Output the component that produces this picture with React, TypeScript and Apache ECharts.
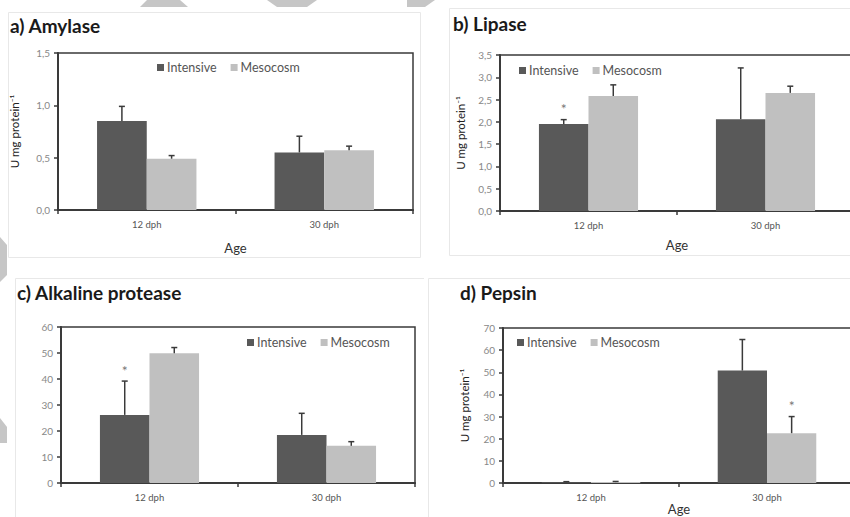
import React, { useEffect, useRef } from 'react';
import * as echarts from 'echarts';

// ---------------- data ----------------
const categories = ['12 dph', '30 dph'];
const seriesNames = ['Intensive', 'Mesocosm'];

const amylaseIntensive = [0.85, 0.55];
const amylaseIntensiveErr = [0.14, 0.155];
const amylaseMesocosm = [0.49, 0.57];
const amylaseMesocosmErr = [0.03, 0.04];

const lipaseIntensive = [1.95, 2.06];
const lipaseIntensiveErr = [0.1, 1.15];
const lipaseMesocosm = [2.58, 2.65];
const lipaseMesocosmErr = [0.25, 0.15];

const proteaseIntensive = [26.2, 18.5];
const proteaseIntensiveErr = [13, 8.3];
const proteaseMesocosm = [49.9, 14.3];
const proteaseMesocosmErr = [2.2, 1.6];

const pepsinIntensive = [0.3, 50.8];
const pepsinIntensiveErr = [0.3, 14];
const pepsinMesocosm = [0.4, 22.5];
const pepsinMesocosmErr = [0.3, 7.5];

// significance (*) flags per category
const amylaseIntensiveStar = [0, 0];
const amylaseMesocosmStar = [0, 0];
const lipaseIntensiveStar = [1, 0];
const lipaseMesocosmStar = [0, 0];
const proteaseIntensiveStar = [1, 0];
const proteaseMesocosmStar = [0, 0];
const pepsinIntensiveStar = [0, 0];
const pepsinMesocosmStar = [0, 1];

const panelTitles = ['a) Amylase', 'b) Lipase', 'c) Alkaline protease', 'd) Pepsin'];
const yAxisTitles = ['U mg protein⁻¹', 'U mg protein⁻¹', '', 'U mg protein⁻¹'];
const xAxisTitles = ['Age', 'Age', '', 'Age'];
const yMax = [1.5, 3.5, 60, 70];
const yInterval = [0.5, 0.5, 10, 10];
const yDecimals = [1, 1, 0, 0];

// ---------------- layout / style ----------------
const FONT = 'Lato, "Open Sans", sans-serif';
const BAR_FRAC = 0.28;
const colors = ['#595959', '#c0c0c0'];
const axisColor = '#3a3a3a';

const grids = [
  { left: 58, top: 53, width: 355, height: 157 },
  { left: 500, top: 55, width: 354, height: 156 },
  { left: 61, top: 327, width: 354, height: 156 },
  { left: 503, top: 328, width: 352, height: 155 },
];
const titlePos = [
  { left: 10, top: 16 },
  { left: 453, top: 14 },
  { left: 17, top: 283 },
  { left: 460, top: 283 },
];
const legendPos = [
  { left: 157, top: 61 },
  { left: 519, top: 64 },
  { left: 247, top: 336 },
  { left: 517, top: 336 },
];
const xNameGap = [31, 27, 0, 19];
const yNameGap = [38, 34, 0, 33];

const panels = [
  {
    vals: [amylaseIntensive, amylaseMesocosm],
    errs: [amylaseIntensiveErr, amylaseMesocosmErr],
    stars: [amylaseIntensiveStar, amylaseMesocosmStar],
  },
  {
    vals: [lipaseIntensive, lipaseMesocosm],
    errs: [lipaseIntensiveErr, lipaseMesocosmErr],
    stars: [lipaseIntensiveStar, lipaseMesocosmStar],
  },
  {
    vals: [proteaseIntensive, proteaseMesocosm],
    errs: [proteaseIntensiveErr, proteaseMesocosmErr],
    stars: [proteaseIntensiveStar, proteaseMesocosmStar],
  },
  {
    vals: [pepsinIntensive, pepsinMesocosm],
    errs: [pepsinIntensiveErr, pepsinMesocosmErr],
    stars: [pepsinIntensiveStar, pepsinMesocosmStar],
  },
];

function makeErrorRenderer(group: number) {
  return (params: any, api: any) => {
    const x = api.value(0);
    const v = api.value(1);
    const e = api.value(2);
    const star = api.value(3);
    const base = api.coord([x, v]);
    const top = api.coord([x, v + e]);
    const band = api.size([1, 0])[0];
    const off = band * BAR_FRAC * (group === 0 ? -0.5 : 0.5);
    const cx = base[0] + off;
    const children: any[] = [
      {
        type: 'line',
        shape: { x1: cx, y1: base[1], x2: cx, y2: top[1] },
        style: { stroke: axisColor, lineWidth: 1.5 },
      },
      {
        type: 'line',
        shape: { x1: cx - 3, y1: top[1], x2: cx + 3, y2: top[1] },
        style: { stroke: axisColor, lineWidth: 1.5 },
      },
    ];
    if (star) {
      children.push({
        type: 'text',
        x: cx,
        y: top[1] - 11,
        style: {
          text: '*',
          fill: '#777',
          fontSize: 14,
          fontFamily: FONT,
          align: 'center',
          verticalAlign: 'middle',
        },
      });
    }
    return { type: 'group', children };
  };
}

export default function App() {
  const ref = useRef<HTMLDivElement>(null);

  useEffect(() => {
    if (!ref.current) return;
    const chart = echarts.init(ref.current, undefined, { renderer: 'svg' });

    const series: any[] = [];
    panels.forEach((p, pi) => {
      [0, 1].forEach((g) => {
        series.push({
          type: 'bar',
          name: seriesNames[g],
          xAxisIndex: pi,
          yAxisIndex: pi,
          data: p.vals[g],
          barWidth: BAR_FRAC * 100 + '%',
          barGap: '0%',
          itemStyle: { color: colors[g] },
          z: 2,
        });
      });
      [0, 1].forEach((g) => {
        series.push({
          type: 'custom',
          name: 'err' + pi + g,
          xAxisIndex: pi,
          yAxisIndex: pi,
          clip: false,
          z: 3,
          renderItem: makeErrorRenderer(g),
          data: categories.map((_, ci) => [ci, p.vals[g][ci], p.errs[g][ci], p.stars[g][ci]]),
          encode: { x: 0, y: 1 },
          silent: true,
        });
      });
    });

    const wm = '#c6c6c6';
    const border = '#e8e8e8';
    const graphic: any[] = [
      // panel frames
      { type: 'rect', shape: { x: 8.5, y: 12.5, width: 412, height: 245 }, style: { fill: 'none', stroke: border, lineWidth: 1 }, z: -10 },
      { type: 'rect', shape: { x: 449.5, y: 8.5, width: 420, height: 247 }, style: { fill: 'none', stroke: border, lineWidth: 1 }, z: -10 },
      { type: 'polyline', shape: { points: [[15.5, 530], [15.5, 278.5], [424, 278.5]] }, style: { fill: 'none', stroke: border, lineWidth: 1 }, z: -10 },
      { type: 'rect', shape: { x: 428.5, y: 278.5, width: 430, height: 260 }, style: { fill: 'none', stroke: border, lineWidth: 1 }, z: -10 },
      // watermark chevrons
      { type: 'polygon', shape: { points: [[147, 0], [180, 0], [188, 7], [140, 7]] }, style: { fill: wm }, z: -5 },
      { type: 'polygon', shape: { points: [[267, 0], [317, 0], [307, 7], [277, 7]] }, style: { fill: wm }, z: -5 },
      { type: 'polygon', shape: { points: [[407, 0], [435, 0], [425, 7], [407, 7]] }, style: { fill: wm }, z: -5 },
      { type: 'polygon', shape: { points: [[0, 237], [7, 245], [7, 275], [0, 282]] }, style: { fill: wm }, z: -5 },
      { type: 'polygon', shape: { points: [[0, 418], [7, 427], [7, 443], [0, 443]] }, style: { fill: wm }, z: -5 },
    ];

    chart.setOption({
      animation: false,
      backgroundColor: '#ffffff',
      title: panelTitles.map((t, i) => ({
        text: t,
        left: titlePos[i].left,
        top: titlePos[i].top,
        padding: 0,
        textStyle: { fontSize: 19, fontWeight: 'bold', fontFamily: FONT, color: '#1a1a1a' },
      })),
      legend: legendPos.map((lp) => ({
        data: seriesNames,
        left: lp.left,
        top: lp.top,
        padding: 0,
        itemWidth: 7,
        itemHeight: 7,
        itemGap: 14,
        icon: 'rect',
        selectedMode: false,
        textStyle: { fontSize: 12.5, color: '#555', fontFamily: FONT, padding: [0, 0, 0, -2] },
      })),
      grid: grids.map((g) => ({
        ...g,
        show: true,
        borderColor: axisColor,
        borderWidth: 1.5,
        backgroundColor: 'transparent',
        outerBoundsMode: 'none',
        containLabel: false,
      })),
      xAxis: grids.map((_, i) => ({
        type: 'category',
        gridIndex: i,
        data: categories,
        axisLine: { show: true, lineStyle: { color: axisColor, width: 2 } },
        axisTick: { show: true, length: 4, lineStyle: { color: axisColor, width: 1.5 } },
        axisLabel: { color: '#555', fontSize: 9.5, margin: 9, fontFamily: FONT },
        name: xAxisTitles[i],
        nameLocation: 'middle',
        nameGap: xNameGap[i],
        nameTextStyle: { fontSize: 13, color: '#333', fontFamily: FONT },
        splitLine: { show: false },
      })),
      yAxis: grids.map((_, i) => ({
        type: 'value',
        gridIndex: i,
        min: 0,
        max: yMax[i],
        interval: yInterval[i],
        axisLine: { show: true, lineStyle: { color: axisColor, width: 2 } },
        axisTick: { show: true, length: 4, lineStyle: { color: axisColor, width: 1.5 } },
        axisLabel: {
          color: '#888',
          fontSize: 10,
          margin: 8,
          fontFamily: FONT,
          formatter: (v: number) => v.toFixed(yDecimals[i]).replace('.', ','),
        },
        splitLine: { show: false },
        name: yAxisTitles[i],
        nameLocation: 'middle',
        nameRotate: 90,
        nameGap: yNameGap[i],
        nameTextStyle: { fontSize: 11.5, color: '#222', fontFamily: FONT },
      })),
      series,
      graphic,
    });

    return () => chart.dispose();
  }, []);

  return (
    <div
      ref={ref}
      style={{ position: 'absolute', left: 0, top: 0, width: 850, height: 517 }}
    />
  );
}
